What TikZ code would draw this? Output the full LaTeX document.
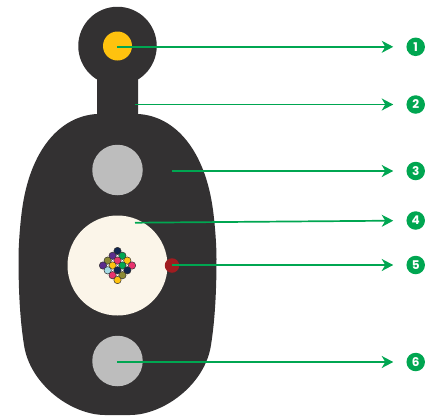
\documentclass[tikz,border=0pt]{standalone}
\usepackage{fontspec}
\setmainfont{Poppins}
\usetikzlibrary{arrows.meta}
\definecolor{cabledark}{HTML}{333132}
\definecolor{coreyellow}{HTML}{FFC20E}
\definecolor{rodgray}{HTML}{BDBDBD}
\definecolor{tubecream}{HTML}{FBF5E9}
\definecolor{ripred}{HTML}{A01C20}
\definecolor{leadgreen}{HTML}{00A651}
\definecolor{fnavy}{HTML}{12264F}
\definecolor{fpurple}{HTML}{5B2C8C}
\definecolor{fgreen}{HTML}{00A651}
\definecolor{folive}{HTML}{8C8A35}
\definecolor{fpink}{HTML}{E8336D}
\definecolor{fblue}{HTML}{A5DBE6}
\tikzset{
  disc/.style={circle,inner sep=0pt,minimum size=#1},
  fibre/.style={circle,inner sep=0pt,minimum size=7.4pt,draw=cabledark,line width=0.5pt,fill=#1},
  badge/.style={circle,fill=leadgreen,text=white,inner sep=0pt,minimum size=18.5pt,font=\bfseries\fontsize{12}{12}\selectfont},
  lead/.style={draw=leadgreen,line width=1.7pt,-{Stealth[length=11.5pt,width=12pt,inset=3.5pt]},shorten >=13pt},
}
\begin{document}
\begin{tikzpicture}[x=1pt,y=-1pt]
\useasboundingbox (0,0) rectangle (434,416);
% cable jacket
\fill[cabledark] (97,114) .. controls (60,116) and (30,150) .. (22,210)
  .. controls (20,225) and (18.5,245) .. (18.5,259)
  .. controls (18.5,290) and (20,320) .. (24,345)
  .. controls (30,385) and (72,415) .. (105,415)
  -- (130,415)
  .. controls (163,415) and (205,385) .. (211,345)
  .. controls (215,320) and (216.5,290) .. (216.5,259)
  .. controls (216.5,245) and (215,225) .. (213,210)
  .. controls (205,150) and (175,116) .. (138,114)
  -- (138,70) -- (97,70) -- cycle;
\node[disc=78.5pt,fill=cabledark] (head) at (117.5,46) {};
\node[disc=29pt,fill=coreyellow] (core) at (117.5,46) {};
\node[disc=50.5pt,fill=rodgray] (rodA) at (117.5,170) {};
\node[disc=100pt,fill=tubecream] (tube) at (117.5,265.5) {};
\node[disc=50.5pt,fill=rodgray] (rodB) at (117.5,361) {};
\node[disc=14.5pt,fill=ripred] (rip) at (172,265.5) {};
% fibre bundle
\fill[white] (117.5,251) -- (132,265.5) -- (117.5,280) -- (103,265.5) -- cycle;
\foreach \i/\x/\y/\c in {
 1/117.5/251/fnavy,
 2/112.6/255.8/fpurple, 3/122.4/255.8/fgreen,
 4/107.7/260.6/folive, 5/117.5/260.6/fpink, 6/127.3/260.6/coreyellow,
 7/103/265.5/fpurple, 8/112.6/265.5/coreyellow, 9/122.4/265.5/fgreen, 10/132/265.5/fpink,
 11/107.7/270.3/fblue, 12/117.5/270.3/fnavy, 13/127.3/270.3/fnavy,
 14/112.6/275.2/fpink, 15/122.4/275.2/folive,
 16/117.5/280/coreyellow}
  \node[fibre=\c] (fib\i) at (\x,\y) {};
% anchor points of the leaders
\coordinate (a1) at (117,46.8);
\coordinate (a2) at (135,104.5);
\coordinate (a3) at (172,171);
\coordinate (a4) at (135,222.7);
\coordinate (a5) at (172,265);
\coordinate (a6) at (117,362);
% number badges
\node[badge] (n1) at (415.7,46.8) {1};
\node[badge] (n2) at (415.7,104.5) {2};
\node[badge] (n3) at (415.7,171) {3};
\node[badge] (n4) at (415.7,220.5) {4};
\node[badge] (n5) at (415.7,265) {5};
\node[badge] (n6) at (415.7,362) {6};
% leaders
\foreach \k in {1,...,6}
  \draw[lead] (a\k) -- (n\k);
\end{tikzpicture}
\end{document}
